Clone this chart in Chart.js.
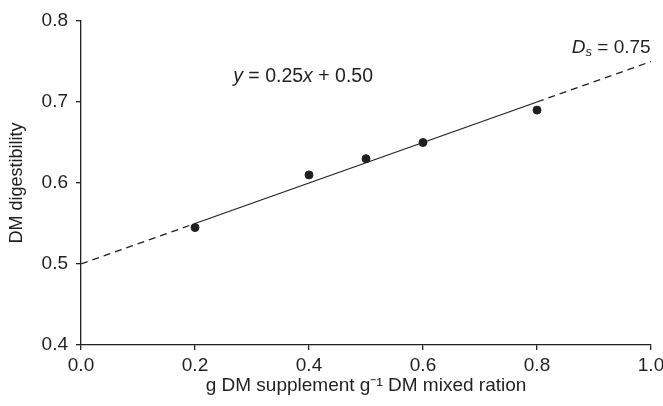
<!DOCTYPE html>
<html>
<head>
<meta charset="utf-8">
<script src="https://cdn.jsdelivr.net/npm/chart.js@4"></script>
<style>
  html, body { margin: 0; padding: 0; background: #fff; }
  #wrap { width: 663px; height: 406px; }
</style>
</head>
<body>
<div id="wrap"><canvas id="chart" width="663" height="406"></canvas></div>
<script>
const FONT = '"Liberation Sans", Arial, sans-serif';
const INK = '#231f20';

// observed points
const obsX = [0.2, 0.4, 0.5, 0.6, 0.8];
const obsY = [0.545, 0.61, 0.63, 0.65, 0.69];

// fitted line y = 0.25x + 0.50 (solid over data range, dashed extrapolation)
const fitX = [0.2, 0.8];
const fitY = [0.55, 0.70];
const lowX = [0.0, 0.2];
const lowY = [0.50, 0.55];
const highX = [0.8, 1.0];
const highY = [0.70, 0.75];

const xTicks = [0.0, 0.2, 0.4, 0.6, 0.8, 1.0];
const yTicks = [0.4, 0.5, 0.6, 0.7, 0.8];

const pts = (xs, ys) => xs.map((x, i) => ({ x, y: ys[i] }));

// equation + Ds labels, drawn in data coordinates
const labelPlugin = {
  id: 'labels',
  afterDatasetsDraw(chart) {
    const { ctx, scales: { x, y } } = chart;
    ctx.save();
    ctx.fillStyle = INK;
    ctx.textBaseline = 'middle';
    let px = x.getPixelForValue(0.267), py = y.getPixelForValue(0.731);
    const parts = [
      ['italic 19.5px ' + FONT, 'y'], ['19.5px ' + FONT, ' = 0.25'],
      ['italic 19.5px ' + FONT, 'x'], ['19.5px ' + FONT, ' + 0.50']
    ];
    parts.forEach(([f, t]) => { ctx.font = f; ctx.fillText(t, px, py); px += ctx.measureText(t).width; });

    px = x.getPixelForValue(0.861); py = y.getPixelForValue(0.767);
    ctx.font = 'italic 19px ' + FONT;
    ctx.fillText('D', px, py); px += ctx.measureText('D').width;
    ctx.font = 'italic 13px ' + FONT;
    ctx.fillText('s', px, py + 5); px += ctx.measureText('s').width;
    ctx.font = '19px ' + FONT;
    ctx.fillText(' = 0.75', px, py);
    ctx.restore();
  }
};

const lineStyle = { type: 'line', borderColor: INK, borderWidth: 1.3, pointRadius: 0, fill: false, tension: 0 };

new Chart(document.getElementById('chart'), {
  type: 'scatter',
  data: {
    datasets: [
      { ...lineStyle, data: pts(fitX, fitY) },
      { ...lineStyle, data: pts(lowX, lowY), borderDash: [7, 5] },
      { ...lineStyle, data: pts(highX, highY), borderDash: [7, 5] },
      { data: pts(obsX, obsY), backgroundColor: INK, borderColor: INK, pointRadius: 4, pointHoverRadius: 4 }
    ]
  },
  options: {
    responsive: false,
    animation: false,
    layout: { padding: { top: 21, right: 12, left: 0, bottom: 0 } },
    plugins: { legend: { display: false }, tooltip: { enabled: false } },
    scales: {
      x: {
        type: 'linear', min: 0, max: 1,
        afterBuildTicks: s => { s.ticks = xTicks.map(v => ({ value: v })); },
        afterFit: s => { s.height = 61; s.paddingRight = 0; s.paddingLeft = 0; },
        ticks: { color: INK, font: { family: FONT, size: 19 }, padding: 4, callback: v => v.toFixed(1) },
        grid: { display: true, drawOnChartArea: false, drawTicks: true, tickLength: 5, tickColor: INK, lineWidth: 1.3 },
        border: { display: true, color: INK, width: 1.3 },
        title: { display: true, text: 'g DM supplement g\u207B\u00B9 DM mixed ration', color: INK, font: { family: FONT, size: 19 }, padding: { top: 0, bottom: 9 } }
      },
      y: {
        type: 'linear', min: 0.4, max: 0.8,
        afterBuildTicks: s => { s.ticks = yTicks.map(v => ({ value: v })); },
        afterFit: s => { s.width = 81; s.paddingTop = 0; s.paddingBottom = 0; },
        ticks: { color: INK, font: { family: FONT, size: 19 }, padding: 8, callback: v => v.toFixed(1) },
        grid: { display: true, drawOnChartArea: false, drawTicks: true, tickLength: 5, tickColor: INK, lineWidth: 1.3 },
        border: { display: true, color: INK, width: 1.3 },
        title: { display: true, text: 'DM digestibility', color: INK, font: { family: FONT, size: 18 }, padding: { top: 6, bottom: 0 } }
      }
    }
  },
  plugins: [labelPlugin]
});
</script>
</body>
</html>
